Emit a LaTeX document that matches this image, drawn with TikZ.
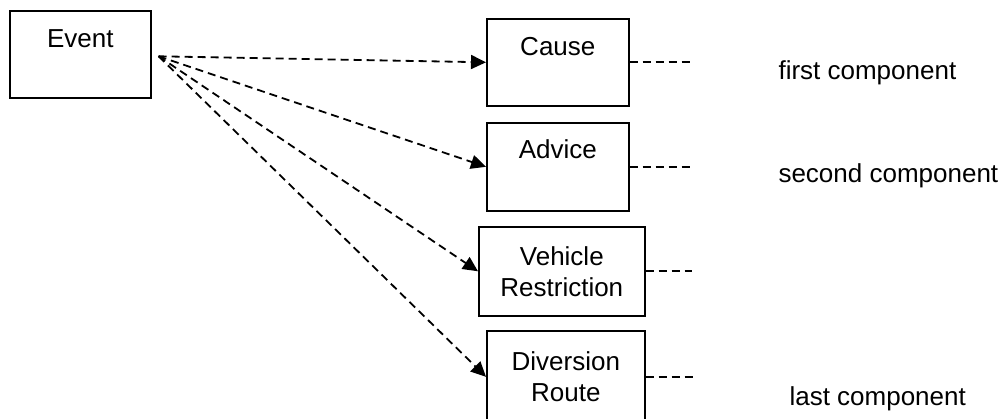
\documentclass[tikz,border=0pt]{standalone}
\usepackage{fontspec}
\setmainfont{Liberation Sans}
\usetikzlibrary{arrows.meta, positioning, calc}

\begin{document}
\begin{tikzpicture}[
    x=1pt, y=-1pt,
    every node/.style={font=\fontsize{26}{31}\selectfont},
    topbox/.style={
        rectangle,
        draw=black,
        line width=1.6pt,
        inner xsep=0pt,
        inner ysep=0pt,
        text height=37pt,
        text depth=50pt,
        anchor=north west
    },
    midbox/.style={
        rectangle,
        draw=black,
        line width=1.6pt,
        inner sep=0pt,
        align=center,
        anchor=north west
    },
    myarrow/.style={
        -{Triangle[length=15pt, width=14pt]},
        line width=1.8pt,
        dash pattern=on 8pt off 5pt
    },
    stub/.style={
        line width=1.8pt,
        dash pattern=on 8pt off 5pt
    },
    complabel/.style={anchor=base west}
]
\useasboundingbox (0,0) rectangle (1006,418);

% Boxes
\node[topbox, minimum width=141pt] (event) at (9,10) {Event};
\node[topbox, minimum width=142pt, text depth=50pt] (cause) at (486,18) {Cause};
\node[topbox, minimum width=142pt, text height=36pt, text depth=52pt] (advice) at (486,122) {Advice};
\node[midbox, minimum width=166pt, minimum height=89pt] (vehicle) at (478,226) {Vehicle\\Restriction};
\node[midbox, minimum width=158pt, minimum height=92pt] (diversion) at (486,330) {Diversion\\Route};

% Source point of the fan
\coordinate (src) at ($(event.east)+(7,2)$);

% Arrows - fan out
\foreach \target in {cause, advice, vehicle, diversion}
    \draw[myarrow] (src) -- (\target.west);

% Stubs to the right
\draw[stub] (cause.east) -- ++(60,0);
\draw[stub] (advice.east) -- ++(62,0);
\draw[stub] (vehicle.east) -- ++(46,0);
\draw[stub] (diversion.east) -- ++(50,0);

% Labels
\node[complabel] (first) at (775,79) {first component};
\node[complabel] (second) at (775,182) {second component};
\node[complabel] (last) at (786,405) {last component};

\end{tikzpicture}
\end{document}
